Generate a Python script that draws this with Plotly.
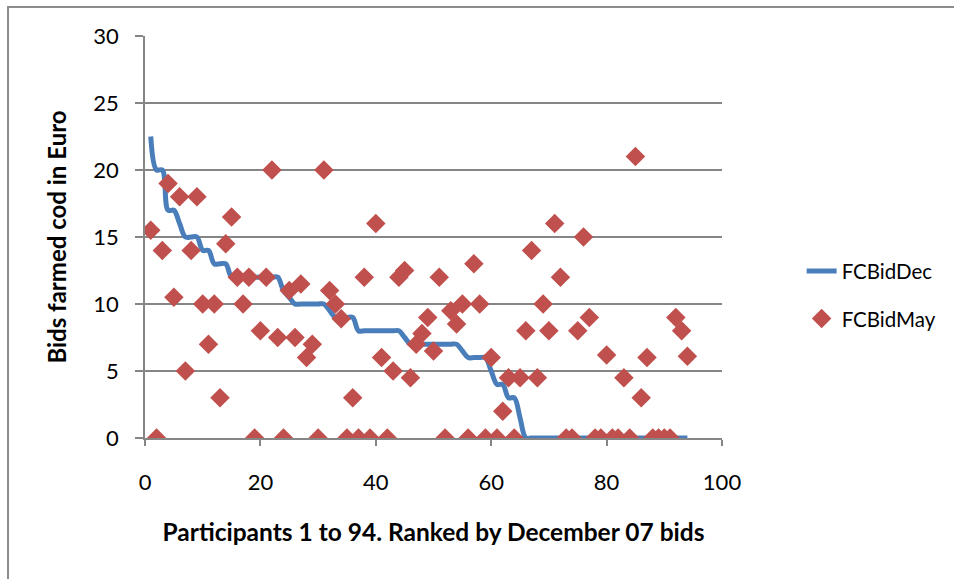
import plotly.graph_objects as go

# Participants ranked by their December 07 bid
participants = list(range(1, 95))

# December 07 bids (ranked, descending)
fc_bid_dec = [
    22.5, 20, 20, 17, 17, 16, 15, 15, 15, 14,
    14, 13, 13, 13, 12, 12, 12, 12, 12, 12,
    12, 12, 12, 11, 10.5, 10, 10, 10, 10, 10,
    10, 9.5, 9, 9, 9, 9, 8, 8, 8, 8,
    8, 8, 8, 8, 7.5, 7, 7, 7, 7, 7,
    7, 7, 7, 7, 6.5, 6, 6, 6, 6, 5,
    4, 4, 3, 3, 1.5, 0, 0, 0, 0, 0,
    0, 0, 0, 0, 0, 0, 0, 0, 0, 0,
    0, 0, 0, 0, 0, 0, 0, 0, 0, 0,
    0, 0, 0, 0,
]

# May bids of the same participants
fc_bid_may = [
    15.5, 0, 14, 19, 10.5, 18, 5, 14, 18, 10,
    7, 10, 3, 14.5, 16.5, 12, 10, 12, 0, 8,
    12, 20, 7.5, 0, 11, 7.5, 11.5, 6, 7, 0,
    20, 11, 10, 8.9, 0, 3, 0, 12, 0, 16,
    6, 0, 5, 12, 12.5, 4.5, 7, 7.8, 9, 6.5,
    12, 0, 9.5, 8.5, 10, 0, 13, 10, 0, 6,
    0, 2, 4.5, 0, 4.5, 8, 14, 4.5, 10, 8,
    16, 12, 0, 0, 8, 15, 9, 0, 0, 6.2,
    0, 0, 4.5, 0, 21, 3, 6, 0, 0, 0,
    0, 9, 8, 6.1,
]

x_ticks = [0, 20, 40, 60, 80, 100]
y_ticks = [0, 5, 10, 15, 20, 25, 30]

FONT = "Lato"
GRID = "#868686"

fig = go.Figure()

fig.add_trace(go.Scatter(
    x=participants, y=fc_bid_dec, name="FCBidDec", mode="lines",
    line=dict(color="#4A7EBB", width=5, shape="spline", smoothing=1.0),
    legendgroup="dec",
))
fig.add_trace(go.Scatter(
    x=participants, y=fc_bid_may, name="FCBidMay", mode="markers",
    marker=dict(symbol="diamond", size=15, color="#C0504D",
                line=dict(width=0)),
    legendgroup="may",
))

fig.update_layout(
    width=954, height=579,
    margin=dict(l=145, r=232, t=36, b=141),
    paper_bgcolor="white", plot_bgcolor="white",
    font=dict(family=FONT, size=22, color="#000000"),
    showlegend=True,
    legend=dict(
        x=1.138, xanchor="left", y=0.465, yanchor="top",
        font=dict(family=FONT, size=20.5, color="#000000"),
        tracegroupgap=18, bgcolor="rgba(0,0,0,0)",
    ),
    xaxis=dict(
        range=[0, 100], tickvals=x_ticks, ticktext=[str(v) for v in x_ticks],
        showgrid=False, zeroline=False,
        showline=True, linecolor=GRID, linewidth=1.5,
        ticks="outside", ticklen=6, tickcolor=GRID, tickwidth=1.5,
        ticklabelstandoff=18,
        tickfont=dict(family=FONT, size=22),
        title=dict(text="<b>Participants 1 to 94. Ranked by December 07 bids</b>",
                   font=dict(family=FONT, size=24.5), standoff=30),
    ),
    yaxis=dict(
        range=[0, 30], tickvals=y_ticks, ticktext=[str(v) for v in y_ticks],
        showgrid=True, gridcolor=GRID, gridwidth=1.5, zeroline=False,
        showline=True, linecolor=GRID, linewidth=1.5,
        ticks="outside", ticklen=8, tickcolor=GRID, tickwidth=1.5,
        ticklabelstandoff=12,
        tickfont=dict(family=FONT, size=22),
        title=dict(text="<b>Bids farmed cod in Euro</b>",
                   font=dict(family=FONT, size=24), standoff=20),
    ),
    shapes=[
        # chart-area frame
        dict(type="rect", xref="paper", yref="paper",
             x0=-0.2374, x1=1.45, y0=-0.40, y1=1.0721,
             line=dict(color="#8C8C8C", width=2), fillcolor="rgba(0,0,0,0)",
             layer="below"),
    ],
)

fig.write_html("out.html", config={"displayModeBar": False})
